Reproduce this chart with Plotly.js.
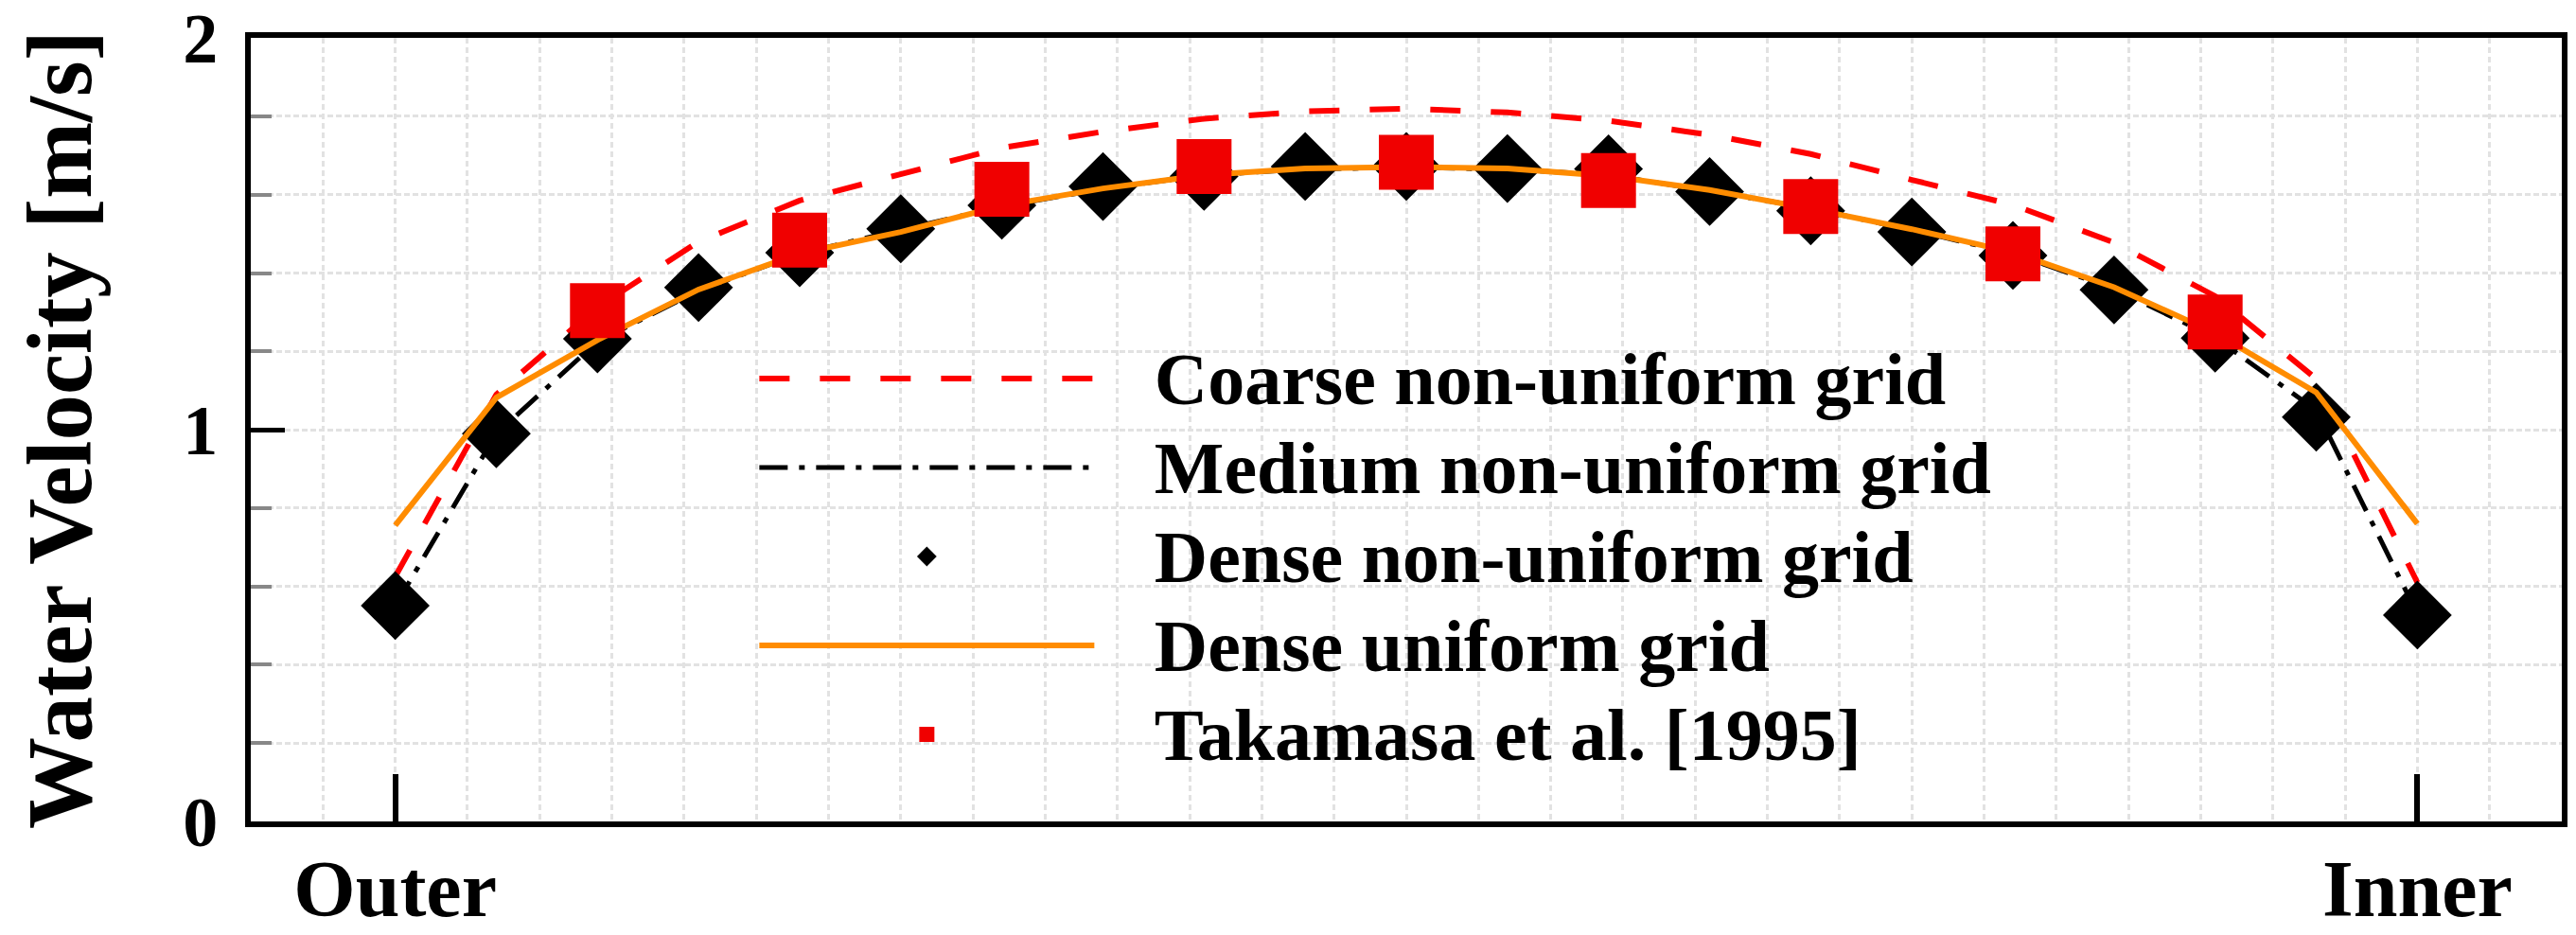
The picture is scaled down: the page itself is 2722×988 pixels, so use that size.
<!DOCTYPE html>
<html>
<head>
<meta charset="utf-8">
<script src="https://cdn.plot.ly/plotly-3.0.1.min.js"></script>
<style>
  html, body { margin: 0; padding: 0; background: #fff; }
  #myPlot { width: 2722px; height: 988px; }
</style>
</head>
<body>
<div id="myPlot"></div>
<script>
// positions across the section, mm (outer wall at -14, inner wall at 14)
var positionMm = [-14, -12.6, -11.2, -9.8, -8.4, -7, -5.6, -4.2, -2.8, -1.4, 0, 1.4, 2.8, 4.2, 5.6, 7, 8.4, 9.8, 11.2, 12.6, 14];
var takamasaMm = [-11.2, -8.4, -5.6, -2.8, 0, 2.8, 5.6, 8.4, 11.2];

// water velocity, m/s
var coarse = [0.625, 1.09, 1.313, 1.48, 1.585, 1.653, 1.72, 1.761, 1.794, 1.813, 1.82, 1.81, 1.789, 1.753, 1.704, 1.638, 1.574, 1.478, 1.341, 1.13, 0.61];
var medium = [0.55, 0.99, 1.225, 1.355, 1.45, 1.51, 1.57, 1.615, 1.65, 1.665, 1.67, 1.665, 1.65, 1.61, 1.565, 1.51, 1.45, 1.36, 1.235, 1.05, 0.53];
var denseNonUniform = [0.551, 0.99, 1.232, 1.363, 1.452, 1.513, 1.573, 1.621, 1.647, 1.672, 1.672, 1.667, 1.666, 1.608, 1.559, 1.505, 1.445, 1.357, 1.234, 1.032, 0.527];
var denseUniform = [0.756, 1.082, 1.229, 1.358, 1.45, 1.505, 1.572, 1.616, 1.65, 1.667, 1.671, 1.667, 1.648, 1.612, 1.564, 1.512, 1.453, 1.364, 1.247, 1.095, 0.76];
var takamasa = [1.304, 1.484, 1.614, 1.672, 1.683, 1.636, 1.57, 1.449, 1.275];

var seriesNames = ["Coarse non-uniform grid", "Medium non-uniform grid", "Dense non-uniform grid", "Dense uniform grid", "Takamasa et al. [1995]"];
var xTickVals = [-14, 14];
var xTickText = ["Outer", "Inner"];
var yTickVals = [0, 1, 2];

var serif = "'Liberation Serif', 'Times New Roman', serif";
var gridGrey = "#e2e2e2";

// legend rows are spaced by the legend font, the text itself is drawn a bit larger
function legendName(s) {
  return "<span style='font-size:78px'>\u00a0\u00a0\u00a0" + s + "</span>";
}

// Define Data
var data = [
  {x: positionMm, y: coarse, mode: "lines", name: legendName(seriesNames[0]),
   line: {color: "#ff0000", width: 6, dash: "32px,32px"}},
  {x: positionMm, y: medium, mode: "lines", name: legendName(seriesNames[1]),
   line: {color: "#000000", width: 5, dash: "30px,12px,6px,12px"}},
  {x: positionMm, y: denseNonUniform, mode: "markers", name: legendName(seriesNames[2]),
   marker: {symbol: "diamond", size: 56, color: "#000000"}},
  {x: positionMm, y: denseUniform, mode: "lines", name: legendName(seriesNames[3]),
   line: {color: "#ff8c00", width: 6}},
  {x: takamasaMm, y: takamasa, mode: "markers", name: legendName(seriesNames[4]),
   marker: {symbol: "square", size: 58, color: "#f00000"}}
];

// Define Layout
var layout = {
  width: 2722,
  height: 988,
  margin: {l: 265, r: 15, t: 40, b: 120},
  paper_bgcolor: "#ffffff",
  plot_bgcolor: "#ffffff",
  font: {family: serif, color: "#000000", weight: "bold"},
  showlegend: true,
  legend: {
    x: 0.218, y: 0.628, xanchor: "left", yanchor: "top",
    bgcolor: "rgba(0,0,0,0)",
    itemwidth: 354,
    font: {family: serif, size: 70, weight: "bold"}
  },
  xaxis: {
    range: [-16, 16],
    tickmode: "array",
    tickvals: xTickVals,
    ticktext: xTickText,
    ticks: "inside",
    ticklen: 50,
    tickwidth: 6,
    tickcolor: "#000000",
    tickfont: {family: serif, size: 84, weight: "bold"},
    ticklabelstandoff: -7,
    ticklabeloverflow: "allow",
    showgrid: false,
    zeroline: false,
    showline: true,
    linecolor: "#000000",
    linewidth: 6,
    mirror: true,
    minor: {dtick: 1, tick0: 0, showgrid: true, gridcolor: gridGrey, gridwidth: 3, griddash: "6px,4px", ticks: ""}
  },
  yaxis: {
    title: {text: "\u00a0\u00a0Water Velocity [m/s]", font: {family: serif, size: 97, weight: "bold"}, standoff: 66},
    range: [0, 2.0005],
    tickmode: "array",
    tickvals: yTickVals,
    ticks: "inside",
    ticklen: 36,
    tickwidth: 5,
    tickcolor: "#000000",
    tickfont: {family: serif, size: 74, weight: "bold"},
    ticklabelstandoff: 14,
    ticklabeloverflow: "allow",
    showgrid: true,
    gridcolor: gridGrey,
    gridwidth: 3,
    griddash: "6px,3px",
    zeroline: false,
    showline: true,
    linecolor: "#000000",
    linewidth: 6,
    mirror: true,
    minor: {dtick: 0.2, tick0: 0, showgrid: true, gridcolor: gridGrey, gridwidth: 3, griddash: "6px,3px",
            ticks: "inside", ticklen: 22, tickwidth: 4, tickcolor: "#888888"}
  }
};

Plotly.newPlot("myPlot", data, layout, {staticPlot: true, displayModeBar: false});
</script>
</body>
</html>
